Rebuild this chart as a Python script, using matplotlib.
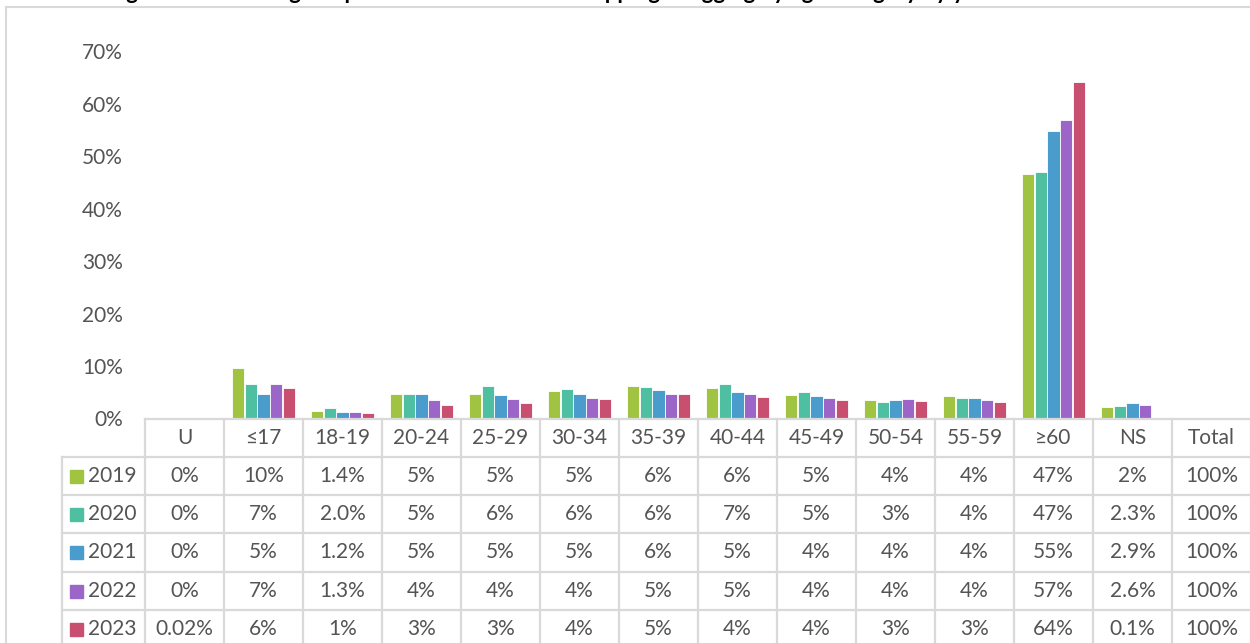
import matplotlib
matplotlib.use("Agg")
import matplotlib.pyplot as plt
import numpy as np

plt.rcParams['font.family'] = ['Lato', 'DejaVu Sans']

categories = ["U", "≤17", "18-19", "20-24", "25-29", "30-34", "35-39", "40-44",
              "45-49", "50-54", "55-59", "≥60", "NS", "Total"]
years = ["2019", "2020", "2021", "2022", "2023"]
colors = ["#A0C442", "#4FBFA2", "#4A9CCD", "#9C66C9", "#C84F70"]

# bar heights in percent (Total column has no bars)
v2019 = [0, 9.7, 1.4, 4.7, 4.7, 5.2, 6.1, 5.8, 4.5, 3.5, 4.3, 46.6, 2.2]
v2020 = [0, 6.6, 2.0, 4.6, 6.1, 5.7, 6.0, 6.5, 5.0, 3.2, 4.0, 47.0, 2.3]
v2021 = [0, 4.6, 1.2, 4.6, 4.5, 4.6, 5.5, 5.0, 4.2, 3.5, 4.0, 54.8, 2.9]
v2022 = [0, 6.6, 1.3, 3.6, 3.7, 4.0, 4.6, 4.6, 4.0, 3.8, 3.6, 56.8, 2.6]
v2023 = [0.02, 5.8, 1.1, 2.5, 2.9, 3.8, 4.7, 4.1, 3.6, 3.3, 3.1, 64.1, 0.1]
values = [v2019, v2020, v2021, v2022, v2023]

# data table as printed under the chart
t2019 = ["0%", "10%", "1.4%", "5%", "5%", "5%", "6%", "6%", "5%", "4%", "4%", "47%", "2%", "100%"]
t2020 = ["0%", "7%", "2.0%", "5%", "6%", "6%", "6%", "7%", "5%", "3%", "4%", "47%", "2.3%", "100%"]
t2021 = ["0%", "5%", "1.2%", "5%", "5%", "5%", "6%", "5%", "4%", "4%", "4%", "55%", "2.9%", "100%"]
t2022 = ["0%", "7%", "1.3%", "4%", "4%", "4%", "5%", "5%", "4%", "4%", "4%", "57%", "2.6%", "100%"]
t2023 = ["0.02%", "6%", "1%", "3%", "3%", "4%", "5%", "4%", "4%", "3%", "3%", "64%", "0.1%", "100%"]
table_rows = [t2019, t2020, t2021, t2022, t2023]

yticks = [0, 10, 20, 30, 40, 50, 60, 70]

W, H = 1250, 643
GRID = "#D9D9D9"
TXT = "#545454"
FS = 15


def fx(px):
    return px / W


def fy(py):
    return 1 - py / H


fig = plt.figure(figsize=(12.5, 6.43), dpi=100)

# plot area: category columns 145..1251 px, 0% at 418.5 px, 70% at 51 px
x0, col_w = 145, 79
base_y, top_y = 418.5, 51
ax = fig.add_axes([fx(x0), fy(base_y), fx(col_w * len(categories)), (base_y - top_y) / H])

x = np.arange(len(v2019))
step, bw = 0.163, 0.152
for i, (yr, vals, c) in enumerate(zip(years, values, colors)):
    ax.bar(x + (i - 2) * step, vals, width=bw, color=c, edgecolor="white",
           linewidth=0.6, label=yr, zorder=2)

ax.set_xlim(-0.5, len(categories) - 0.5)
ax.set_ylim(0, 70)
ax.set_yticks(yticks)
ax.set_yticklabels([f"{t}%" for t in yticks], fontsize=FS, color=TXT)
ax.tick_params(axis="y", length=0, pad=16)
ax.set_xticks([])
for s in ax.spines.values():
    s.set_visible(False)
ax.patch.set_alpha(0)

# data table below the plot
row_top = [418.5, 457, 495, 533, 572, 610, 648]
leg_x = 62
x_right = x0 + col_w * len(categories)
lw = 1.6

fig.add_artist(plt.Line2D([fx(x0), fx(x_right)], [fy(row_top[0])] * 2, color=GRID, lw=lw))
for r in row_top[1:-1]:
    fig.add_artist(plt.Line2D([fx(leg_x), fx(x_right)], [fy(r)] * 2, color=GRID, lw=lw))
fig.add_artist(plt.Line2D([fx(leg_x)] * 2, [fy(row_top[1]), fy(660)], color=GRID, lw=lw))
for k in range(len(categories) + 1):
    xx = x0 + k * col_w
    fig.add_artist(plt.Line2D([fx(xx)] * 2, [fy(row_top[0]), fy(660)], color=GRID, lw=lw))

hy = (row_top[0] + row_top[1]) / 2
for k, cat in enumerate(categories):
    fig.text(fx(x0 + (k + 0.5) * col_w), fy(hy), cat, ha="center", va="center",
             fontsize=FS, color=TXT)

for j, (yr, row, c) in enumerate(zip(years, table_rows, colors)):
    cy = (row_top[j + 1] + row_top[j + 2]) / 2
    fig.patches.append(plt.Rectangle((fx(70), fy(cy + 6.5)), fx(13), 13 / H,
                                     color=c, transform=fig.transFigure))
    fig.text(fx(88), fy(cy), yr, ha="left", va="center", fontsize=FS, color=TXT)
    for k, s in enumerate(row):
        fig.text(fx(x0 + (k + 0.5) * col_w), fy(cy), s, ha="center", va="center",
                 fontsize=FS, color=TXT)

# chart frame (top and left edges)
fig.add_artist(plt.Line2D([fx(6), fx(W + 5)], [fy(6.5)] * 2, color=GRID, lw=1.5))
fig.add_artist(plt.Line2D([fx(6)] * 2, [fy(6.5), fy(H + 5)], color=GRID, lw=1.5))

# title, cut off by the top edge in the source (only descenders show)
fig.text(fx(108), fy(3.0), "Figure 7: Percentage of persons arrested for kidnapping/mugging by age category by year",
         ha="left", va="bottom", fontsize=16, fontweight="bold", color="black")

fig.savefig("out.png", dpi=100)
